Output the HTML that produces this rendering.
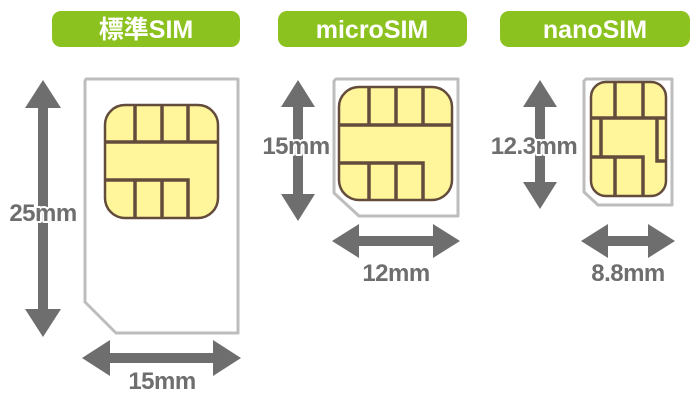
<!DOCTYPE html>
<html><head><meta charset="utf-8"><style>
html,body{margin:0;padding:0;background:#fff;width:700px;height:400px;overflow:hidden}
svg{display:block}
text{font-family:"Liberation Sans","Noto Sans CJK JP",sans-serif;font-weight:bold}
.lbl{fill:#6e6e6e;font-size:24px;stroke:#fff;stroke-width:4;paint-order:stroke;stroke-linejoin:round;letter-spacing:-0.5px}
.pill{fill:#fff;font-size:25px}
.card{fill:#fff;stroke:#bdbdbd;stroke-width:3;stroke-linejoin:round}
.chip{fill:#fff59a;stroke:#634c3c;stroke-width:2.5}
.ln{stroke:#634c3c;stroke-width:3.5;fill:none}
.ar{fill:#6e6e6e}
</style></head><body>
<svg width="700" height="400" viewBox="0 0 700 400" xmlns="http://www.w3.org/2000/svg">
<rect x="52" y="11" width="188" height="36" rx="9" fill="#8cc21f"/>
<text class="pill" x="146" y="38" text-anchor="middle">標準SIM</text>
<rect x="278" y="11" width="189" height="36" rx="9" fill="#8cc21f"/>
<text class="pill" x="372" y="38" text-anchor="middle">microSIM</text>
<rect x="500" y="11" width="190" height="36" rx="9" fill="#8cc21f"/>
<text class="pill" x="595" y="38" text-anchor="middle">nanoSIM</text>

<path class="card" d="M86 79 H238 V333 H116 L85 302 V81 Z"/>
<rect class="chip" x="105" y="105" width="113" height="113" rx="20"/>
<path class="ln" d="M135 105V142M162 105V142M188 105V142M105 142H218M105 180H188V218M135 180V218M162 180V218"/>
<path class="ar" d="M43 80 L61 108 H48 V309 H61 L43 337 L25 309 H38 V108 H25 Z"/>
<text class="lbl" x="43" y="221" text-anchor="middle">25mm</text>
<path class="ar" d="M82 358 L110 340 V353 H213 V340 L241 358 L213 376 V363 H110 V376 Z"/>
<text class="lbl" x="162" y="389" text-anchor="middle">15mm</text>

<path class="card" d="M336 79 H458 V216 H359 L334 193 V81 Z"/>
<rect class="chip" x="339" y="87" width="113" height="113" rx="20"/>
<path class="ln" d="M369 87V125M396 87V125M423 87V125M339 125H452M339 163H423V200M369 163V200M396 163V200"/>
<path class="ar" d="M298 80 L315 107 H303 V194 H315 L298 221 L281 194 H293 V107 H281 Z"/>
<text class="lbl" x="296" y="154" text-anchor="middle">15mm</text>
<path class="ar" d="M332 241 L359 224 V236 H433 V224 L460 241 L433 258 V246 H359 V258 Z"/>
<text class="lbl" x="396" y="281" text-anchor="middle">12mm</text>

<path class="card" d="M586 79 H672 V205 H598 L584 192 V81 Z"/>
<rect class="chip" x="591" y="82" width="75" height="114" rx="15"/>
<path class="ln" d="M615 82V118M643 82V118M591 118H666M601 118V157M657 118V161H666M591 157H643V161M615 157V196M643 157V196"/>
<path class="ar" d="M540 80 L557 107 H545 V182 H557 L540 209 L523 182 H535 V107 H523 Z"/>
<text class="lbl" x="534" y="154" text-anchor="middle">12.3mm</text>
<path class="ar" d="M581 241 L608 224 V236 H648 V224 L675 241 L648 258 V246 H608 V258 Z"/>
<text class="lbl" x="628" y="281" text-anchor="middle">8.8mm</text>
</svg>
</body></html>
